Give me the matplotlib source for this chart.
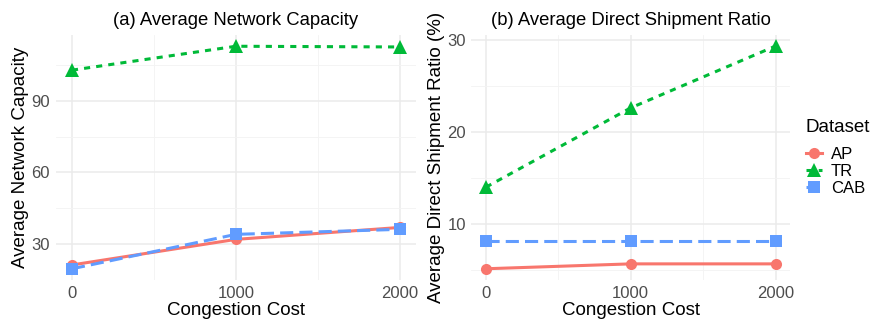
"""Network capacity and direct shipment ratio versus congestion cost."""

import matplotlib.pyplot as plt
from matplotlib.lines import Line2D

plt.rcParams["font.family"] = ["Liberation Sans", "DejaVu Sans"]

congestion_cost = [0, 1000, 2000]
datasets = ["AP", "TR", "CAB"]

# (a) average network capacity per dataset
capacity_ap = [21.3, 32.0, 37.0]
capacity_tr = [102.8, 112.8, 112.5]
capacity_cab = [19.7, 34.1, 36.2]

# (b) average direct shipment ratio (%) per dataset
ratio_ap = [5.15, 5.68, 5.68]
ratio_tr = [14.0, 22.6, 29.3]
ratio_cab = [8.2, 8.2, 8.2]

colors = {"AP": "#F8766D", "TR": "#00BA38", "CAB": "#619CFF"}
markers = {"AP": "o", "TR": "^", "CAB": "s"}
msizes = {"AP": 8, "TR": 9.5, "CAB": 8.5}
lw = 2.2
styles = {"AP": "-", "TR": (0, (2, 2)), "CAB": (0, (4.3, 2))}

fig = plt.figure(figsize=(8.71, 3.23), dpi=100)
ax_a = fig.add_axes([0.0638, 0.1331, 0.4142, 0.7585])
ax_b = fig.add_axes([0.5413, 0.1331, 0.3657, 0.7585])


def draw_panel(ax, series, title, ylabel, yticks, yminor):
    for name, vals in zip(datasets, series):
        ax.plot(congestion_cost, vals, color=colors[name], linestyle=styles[name],
                linewidth=lw, marker=markers[name], markersize=msizes[name],
                markeredgewidth=0, zorder=3)
    ax.set_xlim(-100, 2100)
    ax.set_xticks(congestion_cost)
    ax.set_xticks([500, 1500], minor=True)
    ax.set_yticks(yticks)
    ax.set_yticks(yminor, minor=True)
    ax.grid(which="major", color="#EBEBEB", linewidth=1.1)
    ax.grid(which="minor", color="#F3F3F3", linewidth=0.6)
    ax.set_axisbelow(True)
    for s in ax.spines.values():
        s.set_visible(False)
    ax.tick_params(which="both", length=0, labelsize=12, labelcolor="#4D4D4D", pad=4)
    ax.set_title(title, fontsize=13.3, pad=7)
    ax.set_xlabel("Congestion Cost", fontsize=13.5, labelpad=1)
    ax.set_ylabel(ylabel, fontsize=13.5, labelpad=2)


draw_panel(ax_a, [capacity_ap, capacity_tr, capacity_cab],
           "(a) Average Network Capacity", "Average Network Capacity",
           [30, 60, 90], [45, 75, 105])
ax_a.set_ylim(15.0, 117.5)

draw_panel(ax_b, [ratio_ap, ratio_tr, ratio_cab],
           "(b) Average Direct Shipment Ratio", "Average Direct Shipment Ratio (%)",
           [10, 20, 30], [5, 15, 25])
ax_b.set_ylim(3.93, 30.5)

# legend: title placed separately so its gap to the keys can be set
fig.text(0.925, 1 - 128 / 323, "Dataset", fontsize=13.5, ha="left", va="center")
handles = [Line2D([0], [0], color=colors[n], linestyle=styles[n], linewidth=lw,
                  marker=markers[n], markersize=msizes[n], markeredgewidth=0)
           for n in datasets]
fig.legend(handles, datasets, loc="upper left",
           bbox_to_anchor=(0.925, 0.545), frameon=False, fontsize=12,
           handlelength=1.0, handletextpad=0.5,
           labelspacing=0.12, borderpad=0, borderaxespad=0)

fig.savefig("out.png", dpi=100)
